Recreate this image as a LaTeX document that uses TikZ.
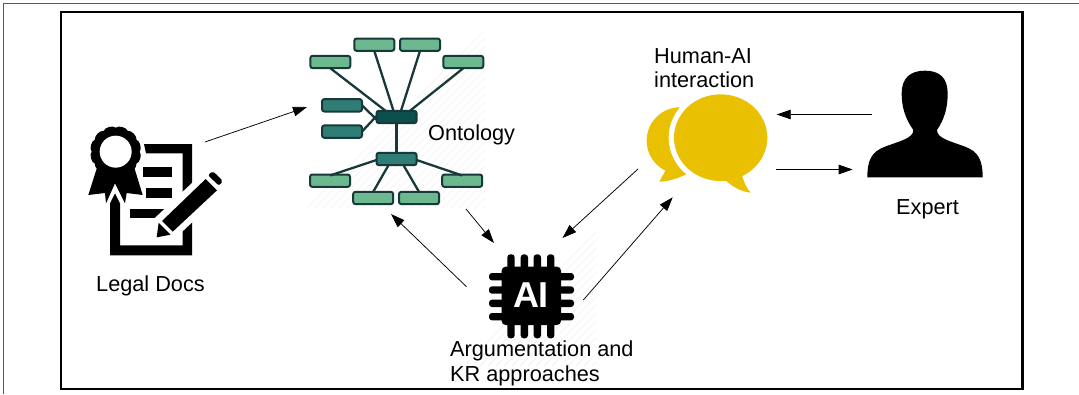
\documentclass[tikz,border=0pt]{standalone}
\usepackage{fontspec}
\setmainfont{Liberation Sans}
\usetikzlibrary{arrows.meta}
\definecolor{lgreen}{HTML}{6DB98F}
\definecolor{mteal}{HTML}{2F7D75}
\definecolor{dteal}{HTML}{0C4F4D}
\definecolor{estroke}{HTML}{17393A}
\definecolor{bubble}{HTML}{EAC102}
\tikzset{
  onto/.style={draw=estroke,line width=2pt,rounded corners=2.4pt,minimum width=40pt,minimum height=12.4pt,inner sep=0pt,outer sep=0pt},
  leaf/.style={onto,fill=lgreen},
  midbox/.style={onto,fill=mteal},
  hub/.style={onto,fill=dteal},
  link/.style={draw=estroke,line width=2.3pt},
  flow/.style={draw=black,line width=0.75pt,-{Triangle[length=14pt,width=9.5pt]},shorten >=0pt},
  lab/.style={font=\fontsize{21.7}{24.5}\selectfont,anchor=base west,inner sep=0pt,align=left,text=black},
  hatchline/.style={draw=black!5,line width=0.6pt},
}
\begin{document}
\begin{tikzpicture}[x=1pt,y=-1pt]
\useasboundingbox (0,0) rectangle (1079,394);
\fill[white] (0,0) rectangle (1079,394);
% outer and inner frame
\draw[draw=black!65,line width=1.4pt] (1079,3.5) -- (3.5,3.5) -- (3.5,394);
\draw[line width=2.2pt] (61,12) rectangle (1022.5,389);
% faint hatching behind the icons
\begin{scope}
\clip (308,32) rectangle (485,208);
\foreach \k in {0,8,...,360}{\draw[hatchline] (300+\k,215) -- (300+\k+190,25);}
\end{scope}
\begin{scope}
\clip (466,232) rectangle (596,365);
\foreach \k in {0,8,...,270}{\draw[hatchline] (458+\k,372) -- (458+\k+145,225);}
\end{scope}
% ontology
\node[leaf] (t1) at (374.3,44.7) {};
\node[leaf] (t2) at (420,44.7) {};
\node[leaf] (t0) at (330.3,62) {};
\node[leaf] (t3) at (463.3,62) {};
\node[midbox] (m1) at (342,105.3) {};
\node[midbox] (m2) at (342,131.6) {};
\node[hub] (hub) at (396.5,117) {};
\node[midbox] (low) at (396.5,159) {};
\node[leaf] (b0) at (330,180.7) {};
\node[leaf] (b3) at (462.2,180.7) {};
\node[leaf] (b1) at (373.2,198) {};
\node[leaf] (b2) at (419,198) {};
\draw[link] (t1.south) -- ([xshift=-3pt]hub.north);
\draw[link] (t2.south) -- ([xshift=4.5pt]hub.north);
\draw[link] (t0.south) -- ([xshift=-11pt]hub.north);
\draw[link] (t3.south) -- ([xshift=13.5pt]hub.north);
\draw[link] (m1.east) -- ([yshift=-2.5pt]hub.west);
\draw[link] (m2.east) -- ([yshift=1pt]hub.west);
\draw[link] (hub.south) -- (low.north);
\draw[link] ([yshift=-1pt]low.west) -- ([yshift=-1pt]b0.north);
\draw[link] ([yshift=-1pt]low.east) -- ([yshift=-1pt]b3.north);
\draw[link] ([xshift=-8pt]low.south) -- (b1.north);
\draw[link] ([xshift=7pt]low.south) -- (b2.north);
% legal document icon
\begin{scope}[shift={(70,100)},scale=0.33333]
\fill (222,132) -- (366,132) -- (366,466) -- (120,466) -- (120,310) -- (135,280) -- (150,310) -- (150,436) -- (338,436) -- (338,160) -- (228,160) -- cycle;
\fill (220,202) rectangle (306,230);
\fill (228,265) rectangle (306,295);
\fill (180,326) rectangle (295,355);
% pen
\draw[white,line width=13pt,line join=round,fill=white] (407,237) -- (441,271) -- (308,395) -- (268,368) -- cycle;
\fill (407,237) -- (441,271) -- (306,397) -- (275,364) -- cycle;
\fill (266,368) -- (302,404) -- (260,412) -- cycle;
\draw[white,line width=1.3pt] (272,362) -- (312,402);
\fill[rounded corners=2pt] (428,213) -- (459,243) -- (447,257) -- (414,226) -- cycle;
% rosette
\fill[white] (137,155) circle[radius=84];
\fill (82,200) -- (55,285) -- (105,279) -- (108,310) -- (135,250) -- (165,310) -- (170,279) -- (218,285) -- (192,200) -- cycle;
\fill (137,83)
 \foreach \a in {15,45,...,345}{ .. controls ({137+80*sin(\a-9)},{155-80*cos(\a-9)}) and ({137+80*sin(\a+9)},{155-80*cos(\a+9)}) .. ({137+72*sin(\a+15)},{155-72*cos(\a+15)}) } -- cycle;
\fill[white] (137,155) circle[radius=48];
\end{scope}
% speech bubbles
\begin{scope}[shift={(630,40)},scale=0.33333]
\fill[bubble] (150,302) ellipse[x radius=100,y radius=100];
\fill[bubble] (110,385) -- (88,425) .. controls (120,425) and (150,412) .. (180,398) -- cycle;
\fill[white] (272,293) ellipse[x radius=156,y radius=146];
\fill[bubble] (272,293) ellipse[x radius=140,y radius=130];
\fill[bubble] (280,415) .. controls (300,435) and (330,455) .. (362,458) .. controls (350,445) and (340,425) .. (335,400) -- cycle;
\end{scope}
% expert silhouette
\begin{scope}[shift={(630,40)},scale=0.33333]
\fill (712,412) .. controls (712,360) and (725,335) .. (765,320) .. controls (810,303) and (850,295) .. (850,270)
 .. controls (825,235) and (815,200) .. (815,160) .. controls (815,115) and (840,92) .. (885,92)
 .. controls (930,92) and (953,115) .. (953,160) .. controls (953,200) and (945,235) .. (921,270)
 .. controls (921,295) and (960,303) .. (1005,320) .. controls (1045,335) and (1058,360) .. (1058,412) -- cycle;
\end{scope}
% AI chip
\begin{scope}[shift={(450,225)},scale=0.33333]
\foreach \p in {183,223,262,302}{
 \fill[rounded corners=3pt] (\p-11,88) rectangle (\p+11,340);
}
\foreach \p in {155,195,235,275}{
 \fill[rounded corners=3pt] (117,\p-11) rectangle (372,\p+11);
}
\fill[rounded corners=4pt] (155,125) rectangle (333,300);
\end{scope}
\node[font=\fontsize{36}{36}\selectfont\bfseries,text=white,inner sep=0pt] (ailogo) at (531,295.5) {AI};
% labels
\node[lab] (legal) at (96,291) {Legal Docs};
\node[lab] (ontolab) at (428,140) {Ontology};
\node[lab] (human) at (654,87.5) {Human-AI\\interaction};
\node[lab] (expert) at (896,214) {Expert};
\node[lab] (argu) at (450,381) {Argumentation and\\KR approaches};
% connectors
\coordinate (a1s) at (205,142); \coordinate (a1e) at (307,107);
\coordinate (a2s) at (466,209); \coordinate (a2e) at (494,243);
\coordinate (a3s) at (466.5,286.7); \coordinate (a3e) at (391,214);
\coordinate (a4s) at (583.3,300); \coordinate (a4e) at (672.7,197.3);
\coordinate (a5s) at (638,169); \coordinate (a5e) at (562.5,238);
\coordinate (a6s) at (872.3,114.5); \coordinate (a6e) at (776.7,114.5);
\coordinate (a7s) at (776,169.5); \coordinate (a7e) at (852.7,169.5);
\draw[flow] (a1s) -- (a1e);
\draw[flow] (a2s) -- (a2e);
\draw[flow] (a3s) -- (a3e);
\draw[flow] (a4s) -- (a4e);
\draw[flow] (a5s) -- (a5e);
\draw[flow] (a6s) -- (a6e);
\draw[flow] (a7s) -- (a7e);
\end{tikzpicture}
\end{document}
